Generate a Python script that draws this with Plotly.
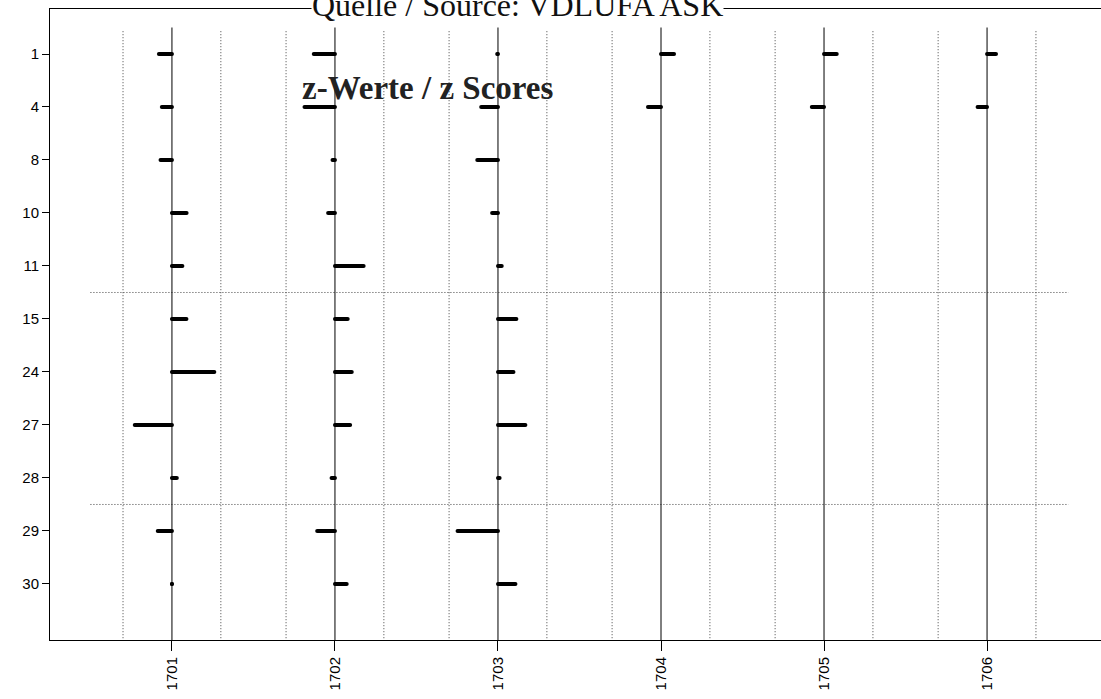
import plotly.graph_objects as go

# ---- data ----
labs = ["1", "4", "8", "10", "11", "15", "24", "27", "28", "29", "30"]
rounds = ["1701", "1702", "1703", "1704", "1705", "1706"]

z_1701 = [-0.80, -0.62, -0.70, 0.90, 0.64, 0.89, 2.60, -2.28, 0.30, -0.87, 0.00]
z_1702 = [-1.30, -1.87, -0.15, -0.42, 1.76, 0.78, 1.03, 0.93, -0.21, -1.09, 0.72]
z_1703 = [-0.05, -1.03, -1.27, -0.36, 0.23, 1.13, 0.95, 1.68, 0.10, -2.48, 1.07]
z_1704 = [0.80, -0.80, None, None, None, None, None, None, None, None, None]
z_1705 = [0.78, -0.75, None, None, None, None, None, None, None, None, None]
z_1706 = [0.55, -0.58, None, None, None, None, None, None, None, None, None]

group_breaks = [4.5, 8.5]   # dotted separators between lab groups
z_limit = 3                 # dotted guide lines at +/- 3
z_unit = 0.1                # category width per z unit

z_all = [z_1701, z_1702, z_1703, z_1704, z_1705, z_1706]

fig = go.Figure()

dot_style = dict(color="#444444", width=1, dash="1px,2px")

# dotted vertical guide lines at +/- z_limit
for k in range(len(rounds)):
    for s in (-1, 1):
        xv = k + s * z_limit * z_unit
        fig.add_trace(go.Scatter(x=[xv, xv], y=[-0.43, 11.2], mode="lines",
                                 line=dot_style, hoverinfo="skip", showlegend=False))

# dotted horizontal separators
for yb in group_breaks:
    fig.add_trace(go.Scatter(x=[-0.5, len(rounds) - 0.5], y=[yb, yb], mode="lines",
                             line=dot_style, hoverinfo="skip", showlegend=False))

# solid vertical centre lines
for k in range(len(rounds)):
    fig.add_trace(go.Scatter(x=[k, k], y=[-0.5, 11.2], mode="lines",
                             line=dict(color="black", width=1),
                             hoverinfo="skip", showlegend=False))

# z-score bars
bx, by = [], []
for k, zs in enumerate(z_all):
    for i, z in enumerate(zs):
        if z is None:
            continue
        bx += [k, k + z * z_unit, None]
        by += [i, i, None]
fig.add_trace(go.Scatter(x=bx, y=by, mode="lines+markers",
                         line=dict(color="black", width=4),
                         marker=dict(color="black", size=4),
                         hoverinfo="skip", showlegend=False))

fig.update_layout(
    width=1101, height=699,
    margin=dict(l=50, r=0, t=9, b=59),
    plot_bgcolor="white", paper_bgcolor="white",
    showlegend=False,
    xaxis=dict(range=[-0.748, 5.699], tickvals=list(range(len(rounds))), ticktext=rounds,
               tickangle=-90, ticks="outside", ticklen=10, tickcolor="black",
               showgrid=False, zeroline=False, showline=True, mirror=True,
               linecolor="black", linewidth=1,
               tickfont=dict(family="Liberation Sans", size=15, color="black")),
    yaxis=dict(range=[11.057, -0.849], tickvals=list(range(len(labs))), ticktext=labs,
               ticks="outside", ticklen=7, tickcolor="black",
               showgrid=False, zeroline=False, showline=True, mirror=False,
               linecolor="black", linewidth=1,
               tickfont=dict(family="Liberation Sans", size=15, color="black")),
    annotations=[
        dict(text="Quelle / Source: VDLUFA ASK", xref="paper", yref="paper",
             x=0.4448, y=1.0071, xanchor="center", yanchor="middle", showarrow=False,
             bgcolor="white", borderpad=0,
             font=dict(family="Liberation Serif", size=32, color="#111111")),
        dict(text="z-Werte / z Scores", xref="paper", yref="paper",
             x=0.3592, y=0.8748, xanchor="center", yanchor="middle", showarrow=False,
             font=dict(family="Liberation Serif", size=33, color="#222222", weight="bold")),
    ],
)

fig.write_html("out.html", config={"displayModeBar": False},
               post_script="document.body.style.margin='0';document.body.style.overflow='hidden';")
